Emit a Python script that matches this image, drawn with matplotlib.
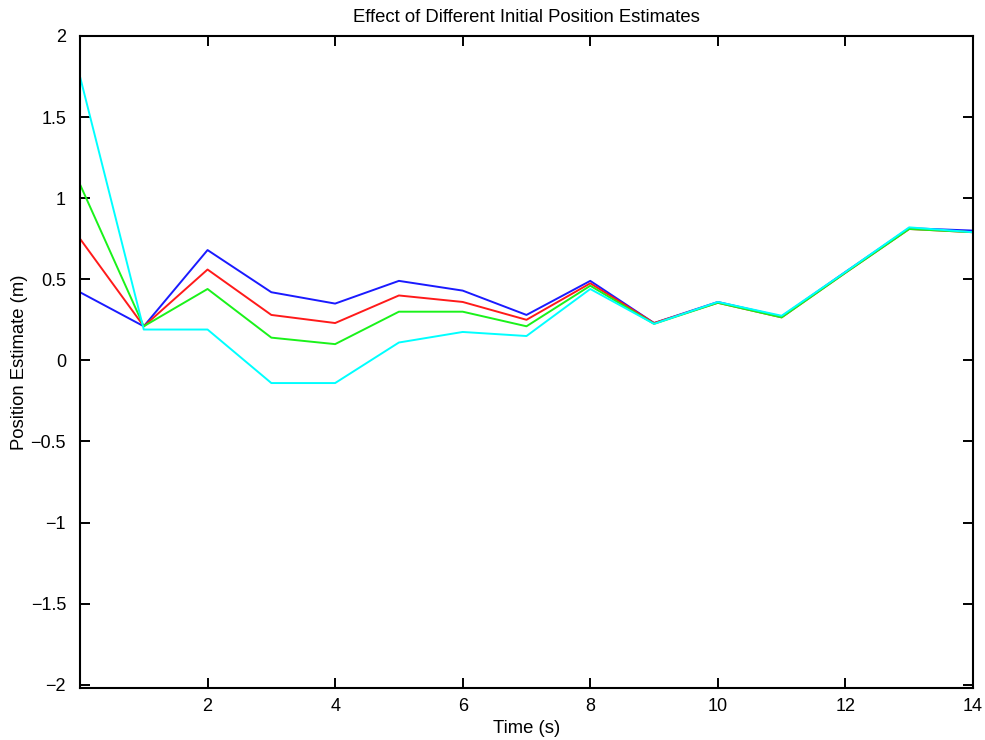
import numpy as np
import matplotlib.pyplot as plt

plt.rcParams['font.family'] = ['Liberation Sans', 'DejaVu Sans']

time_s = [0, 1, 2, 3, 4, 5, 6, 7, 8, 9, 10, 11, 12, 13, 14]

# four runs with different initial position guesses
est_blue = [0.42, 0.21, 0.68, 0.42, 0.35, 0.49, 0.43, 0.28, 0.49, 0.23, 0.36, 0.27, 0.545, 0.815, 0.80]
est_red = [0.75, 0.21, 0.56, 0.28, 0.23, 0.40, 0.36, 0.25, 0.475, 0.23, 0.355, 0.265, 0.54, 0.81, 0.79]
est_green = [1.085, 0.21, 0.44, 0.14, 0.10, 0.30, 0.30, 0.21, 0.46, 0.225, 0.355, 0.265, 0.54, 0.81, 0.79]
est_cyan = [1.75, 0.19, 0.19, -0.14, -0.14, 0.11, 0.175, 0.15, 0.44, 0.225, 0.36, 0.275, 0.545, 0.82, 0.79]

fig = plt.figure(figsize=(9.85, 7.4), dpi=100)
ax = fig.add_axes([0.0812, 0.0703, 0.9066, 0.8811])

ax.plot(time_s, est_blue, color=(0.1, 0.1, 1), lw=1.4)
ax.plot(time_s, est_red, color=(1, 0.1, 0.1), lw=1.4)
ax.plot(time_s, est_green, color=(0.1, 0.95, 0.1), lw=1.4)
ax.plot(time_s, est_cyan, color=(0, 1, 1), lw=1.4)

ax.set_xlim(0, 14)
ax.set_ylim(-2.02, 2)
ax.set_xticks([2, 4, 6, 8, 10, 12, 14])
ax.set_yticks(np.arange(-2, 2.01, 0.5))
ax.set_yticklabels(['\u22122', '\u22121.5', '\u22121', '\u22120.5', '0', '0.5', '1', '1.5', '2'])
ax.tick_params(direction='in', length=7, width=1.4, top=True, right=True, labelsize=13)
ax.tick_params(axis='x', pad=7)
ax.tick_params(axis='y', pad=10)
for s in ax.spines.values():
    s.set_linewidth(1.5)

ax.set_title('Effect of Different Initial Position Estimates', fontsize=13.3, pad=10)
ax.set_xlabel('Time (s)', fontsize=13.3, labelpad=4)
ax.set_ylabel('Position Estimate (m)', fontsize=13.3, labelpad=2)

fig.savefig('out.png', dpi=100)
